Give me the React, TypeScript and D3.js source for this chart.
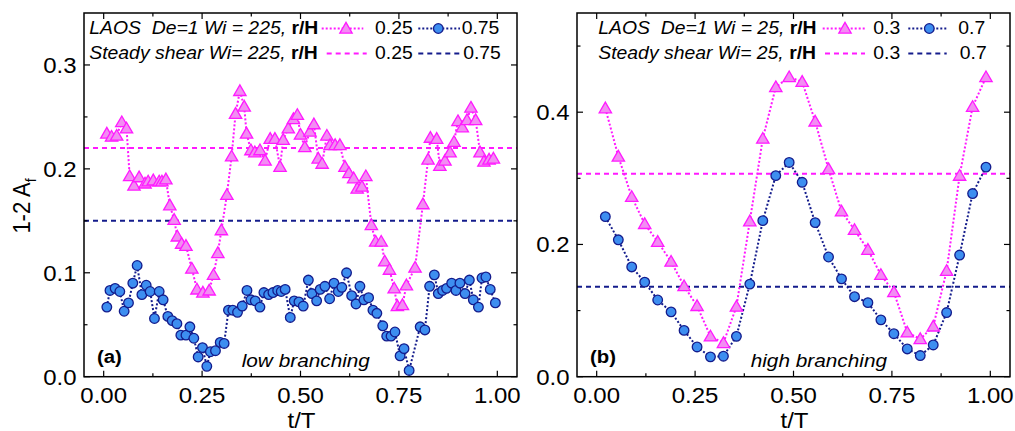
import * as d3 from "d3";

// ---- data ----
// panel (a): low branching, Wi = 225
const tA025 = [0.008,0.020,0.033,0.046,0.058,0.066,0.077,0.090,0.105,0.113,0.126,0.141,0.148,0.158,0.168,0.179,0.187,0.198,0.209,0.224,0.237,0.252,0.268,0.279,0.290,0.299,0.313,0.325,0.335,0.346,0.357,0.363,0.374,0.384,0.397,0.410,0.423,0.435,0.448,0.456,0.469,0.482,0.492,0.500,0.511,0.524,0.534,0.545,0.555,0.567,0.575,0.588,0.600,0.613,0.623,0.635,0.644,0.656,0.666,0.680,0.691,0.705,0.714,0.726,0.738,0.746,0.759,0.769,0.791,0.811,0.824,0.830,0.846,0.854,0.867,0.880,0.890,0.900,0.911,0.923,0.933,0.945,0.956,0.966,0.979,0.990];
const a025 = [0.234,0.231,0.232,0.245,0.239,0.193,0.184,0.192,0.186,0.188,0.189,0.188,0.188,0.190,0.165,0.151,0.135,0.128,0.126,0.104,0.084,0.081,0.083,0.098,0.119,0.141,0.175,0.212,0.253,0.275,0.260,0.234,0.218,0.216,0.218,0.208,0.229,0.229,0.202,0.228,0.239,0.248,0.252,0.233,0.221,0.236,0.243,0.210,0.205,0.232,0.223,0.223,0.223,0.202,0.196,0.191,0.181,0.183,0.193,0.146,0.130,0.130,0.111,0.103,0.085,0.068,0.069,0.088,0.105,0.166,0.209,0.230,0.229,0.203,0.208,0.216,0.226,0.246,0.240,0.247,0.259,0.247,0.216,0.207,0.209,0.210];
const tA075 = [0.008,0.016,0.029,0.041,0.052,0.063,0.074,0.085,0.097,0.108,0.118,0.129,0.141,0.151,0.163,0.174,0.186,0.196,0.209,0.219,0.229,0.240,0.251,0.262,0.271,0.284,0.296,0.306,0.317,0.328,0.340,0.352,0.364,0.374,0.385,0.397,0.407,0.419,0.430,0.442,0.451,0.461,0.474,0.484,0.496,0.507,0.520,0.529,0.541,0.550,0.562,0.574,0.585,0.596,0.605,0.617,0.630,0.641,0.651,0.661,0.673,0.684,0.694,0.709,0.719,0.730,0.740,0.753,0.763,0.776,0.804,0.816,0.828,0.840,0.850,0.861,0.871,0.884,0.895,0.905,0.918,0.929,0.939,0.952,0.961,0.971,0.982,0.995];
const a075 = [0.067,0.083,0.085,0.082,0.063,0.071,0.090,0.107,0.079,0.088,0.082,0.056,0.082,0.074,0.058,0.054,0.051,0.040,0.040,0.048,0.037,0.019,0.028,0.010,0.024,0.025,0.033,0.032,0.064,0.064,0.062,0.068,0.083,0.074,0.073,0.067,0.081,0.079,0.081,0.083,0.082,0.084,0.057,0.073,0.072,0.068,0.093,0.080,0.073,0.084,0.087,0.075,0.090,0.082,0.086,0.100,0.078,0.070,0.087,0.074,0.076,0.064,0.061,0.049,0.039,0.039,0.043,0.020,0.027,0.006,0.048,0.045,0.087,0.098,0.080,0.083,0.085,0.090,0.083,0.090,0.080,0.093,0.074,0.067,0.095,0.096,0.084,0.071];
const steadyA = [0.22, 0.15];

// panel (b): high branching, Wi = 25
const tB = [0.022,0.055,0.089,0.122,0.155,0.189,0.222,0.255,0.289,0.322,0.355,0.389,0.422,0.455,0.489,0.522,0.555,0.589,0.622,0.655,0.689,0.722,0.755,0.789,0.822,0.855,0.889,0.922,0.955,0.989];
const b03 = [0.406,0.333,0.272,0.231,0.204,0.174,0.137,0.107,0.061,0.051,0.106,0.235,0.360,0.438,0.453,0.446,0.386,0.314,0.250,0.222,0.192,0.154,0.128,0.067,0.057,0.076,0.160,0.304,0.408,0.453];
const b07 = [0.242,0.207,0.166,0.143,0.116,0.098,0.070,0.045,0.030,0.031,0.061,0.140,0.236,0.304,0.324,0.294,0.233,0.181,0.148,0.121,0.112,0.086,0.065,0.042,0.032,0.048,0.097,0.184,0.277,0.317];
const steadyB = [0.307, 0.136];

const xMajor = [0, 0.25, 0.5, 0.75, 1];
const xMinor = [0.125, 0.375, 0.625, 0.875];
const yMajorA = [0, 0.1, 0.2, 0.3];
const yMinorA = [0.05, 0.15, 0.25];
const yMajorB = [0, 0.2, 0.4];
const yMinorB = [0.1, 0.3, 0.5];

// ---- styling ----
const W = 1015;
const H = 431;
const TOP = 13;
const BOTTOM = 376.7;
const SX = 1.1; // glyphs in the source are a bit wide
const FONT = "Arial, 'Liberation Sans', sans-serif";
const MAG = "#ff1aff";
const TRI_FILL = "#f28df2";
const NAVY = "#141c8c";
const CIR_FILL = "#3d8ef0";

type TProps = {
    x: number;
    y: number;
    size: number;
    anchor?: "start" | "middle" | "end";
    italic?: boolean;
    bold?: boolean;
    children: React.ReactNode;
};

const T = ({ x, y, size, anchor = "start", italic, bold, children }: TProps) => (
    <text
        transform={`translate(${x},${y}) scale(${SX},1)`}
        fontSize={size}
        fontFamily={FONT}
        textAnchor={anchor}
        fontStyle={italic ? "italic" : "normal"}
        fontWeight={bold ? "bold" : "normal"}
        style={{ whiteSpace: "pre" }}
    >
        {children}
    </text>
);

const triPath = d3.symbol().type(d3.symbolTriangle).size(66)() as string;

type LegendProps = {
    x0: number;
    laos: string;
    steady: string;
    s1: [number, number, number];
    s2: [number, number, number];
    l1: number;
    l2: number;
    labels: [string, string];
    d1: [number, number];
    d2: [number, number];
};

const LEG = 17.6;

const Legend = ({ x0, laos, steady, s1, s2, l1, l2, labels, d1, d2 }: LegendProps) => {
    const y1 = 34.3;
    const y2 = 59.3;
    const m1 = 28.5;
    const m2 = 53.5;
    return (
        <g>
            <T x={x0} y={y1} size={LEG} italic>
                {laos}
                <tspan fontStyle="normal" fontWeight="bold">r/H</tspan>
            </T>
            <line x1={s1[0]} x2={s1[1]} y1={m1} y2={m1} stroke={MAG} strokeWidth={2} strokeDasharray="2,2" />
            <path d={triPath} transform={`translate(${s1[2]},${m1 + 1})`} fill={TRI_FILL} stroke={MAG} strokeWidth={1.3} />
            <T x={l1} y={y1} size={LEG}>{labels[0]}</T>
            <line x1={s2[0]} x2={s2[1]} y1={m1} y2={m1} stroke={NAVY} strokeWidth={2} strokeDasharray="2,2" />
            <circle cx={s2[2]} cy={m1} r={4.8} fill={CIR_FILL} stroke={NAVY} strokeWidth={1.3} />
            <T x={l2} y={y1} size={LEG}>{labels[1]}</T>

            <T x={x0} y={y2} size={LEG} italic>
                {steady}
                <tspan fontStyle="normal" fontWeight="bold">r/H</tspan>
            </T>
            <line x1={d1[0]} x2={d1[1]} y1={m2} y2={m2} stroke={MAG} strokeWidth={2} strokeDasharray="5,4" />
            <T x={l1} y={y2} size={LEG}>{labels[0]}</T>
            <line x1={d2[0]} x2={d2[1]} y1={m2} y2={m2} stroke={NAVY} strokeWidth={2} strokeDasharray="5,4" />
            <T x={l2 + 1.5} y={y2} size={LEG}>{labels[1]}</T>
        </g>
    );
};

type PanelProps = {
    left: number;
    right: number;
    yMax: number;
    yMajor: number[];
    yMinor: number[];
    tTri: number[];
    vTri: number[];
    tCir: number[];
    vCir: number[];
    steady: number[];
    tag: string;
    note: string;
    noteX: number;
    legend: LegendProps;
};

const Panel = (p: PanelProps) => {
    const x = d3.scaleLinear().domain([-0.05, 1.05]).range([p.left, p.right]);
    const y = d3.scaleLinear().domain([0, p.yMax]).range([BOTTOM, TOP]);
    const line = d3
        .line<[number, number]>()
        .x((d) => x(d[0]))
        .y((d) => y(d[1]));
    const triPts = p.tTri.map((t, i) => [t, p.vTri[i]] as [number, number]);
    const cirPts = p.tCir.map((t, i) => [t, p.vCir[i]] as [number, number]);
    const fx = d3.format(".2f");
    const fy = d3.format(".1f");
    const MAJ = 6;
    const MIN = 3.5;
    const TICKF = 21.8;

    return (
        <g>
            {/* steady shear reference lines */}
            <line x1={p.left} x2={p.right} y1={y(p.steady[0])} y2={y(p.steady[0])} stroke={MAG} strokeWidth={2} strokeDasharray="5,4" />
            <line x1={p.left} x2={p.right} y1={y(p.steady[1])} y2={y(p.steady[1])} stroke={NAVY} strokeWidth={2} strokeDasharray="5,4" />

            <path d={line(triPts) ?? ""} fill="none" stroke={MAG} strokeWidth={2} strokeDasharray="2,2" />
            <path d={line(cirPts) ?? ""} fill="none" stroke={NAVY} strokeWidth={2} strokeDasharray="2,2" />

            {triPts.map((d, i) => (
                <path key={`t${i}`} d={triPath} transform={`translate(${x(d[0])},${y(d[1]) + 1})`} fill={TRI_FILL} stroke={MAG} strokeWidth={1.3} />
            ))}
            {cirPts.map((d, i) => (
                <circle key={`c${i}`} cx={x(d[0])} cy={y(d[1])} r={4.8} fill={CIR_FILL} stroke={NAVY} strokeWidth={1.3} />
            ))}

            {/* frame and inward ticks */}
            <rect x={p.left} y={TOP} width={p.right - p.left} height={BOTTOM - TOP} fill="none" stroke="#000" strokeWidth={1.5} />
            {xMajor.map((t) => (
                <g key={`xM${t}`}>
                    <line x1={x(t)} x2={x(t)} y1={BOTTOM} y2={BOTTOM - MAJ} stroke="#000" strokeWidth={1.2} />
                    <line x1={x(t)} x2={x(t)} y1={TOP} y2={TOP + MAJ} stroke="#000" strokeWidth={1.2} />
                    <T x={x(t)} y={402.5} size={TICKF} anchor="middle">{fx(t)}</T>
                </g>
            ))}
            {xMinor.map((t) => (
                <g key={`xm${t}`}>
                    <line x1={x(t)} x2={x(t)} y1={BOTTOM} y2={BOTTOM - MIN} stroke="#000" strokeWidth={1.2} />
                    <line x1={x(t)} x2={x(t)} y1={TOP} y2={TOP + MIN} stroke="#000" strokeWidth={1.2} />
                </g>
            ))}
            {p.yMajor.map((v) => (
                <g key={`yM${v}`}>
                    <line x1={p.left} x2={p.left + MAJ} y1={y(v)} y2={y(v)} stroke="#000" strokeWidth={1.2} />
                    <line x1={p.right} x2={p.right - MAJ} y1={y(v)} y2={y(v)} stroke="#000" strokeWidth={1.2} />
                    <T x={p.left - 7.5} y={y(v) + 7.8} size={TICKF} anchor="end">{fy(v)}</T>
                </g>
            ))}
            {p.yMinor.map((v) => (
                <g key={`ym${v}`}>
                    <line x1={p.left} x2={p.left + MIN} y1={y(v)} y2={y(v)} stroke="#000" strokeWidth={1.2} />
                    <line x1={p.right} x2={p.right - MIN} y1={y(v)} y2={y(v)} stroke="#000" strokeWidth={1.2} />
                </g>
            ))}

            <T x={(p.left + p.right) / 2 + 1} y={427.5} size={TICKF} anchor="middle">t/T</T>
            <T x={p.left + 13} y={362.5} size={18.5} bold>{p.tag}</T>
            <T x={p.noteX} y={367} size={18.9} italic>{p.note}</T>

            <Legend {...p.legend} />
        </g>
    );
};

export default function App() {
    return (
        <svg width={W} height={H} style={{ position: "absolute", left: 0, top: 0, background: "#fff" }}>
            <rect width={W} height={H} fill="#fff" />
            <Panel
                left={84}
                right={517}
                yMax={0.35}
                yMajor={yMajorA}
                yMinor={yMinorA}
                tTri={tA025}
                vTri={a025}
                tCir={tA075}
                vCir={a075}
                steady={steadyA}
                tag="(a)"
                note="low branching"
                noteX={241.7}
                legend={{
                    x0: 89.3,
                    laos: "LAOS  De=1 Wi = 225, ",
                    steady: "Steady shear Wi= 225, ",
                    s1: [321.7, 363.3, 346],
                    s2: [418.3, 460, 438.3],
                    l1: 375,
                    l2: 461.7,
                    labels: ["0.25", "0.75"],
                    d1: [326.7, 366.7],
                    d2: [418.3, 460],
                }}
            />
            <Panel
                left={577}
                right={1010}
                yMax={0.55}
                yMajor={yMajorB}
                yMinor={yMinorB}
                tTri={tB}
                vTri={b03}
                tCir={tB}
                vCir={b07}
                steady={steadyB}
                tag="(b)"
                note="high branching"
                noteX={750.7}
                legend={{
                    x0: 598.3,
                    laos: "LAOS  De=1 Wi = 25, ",
                    steady: "Steady shear Wi= 25, ",
                    s1: [822.7, 866.7, 845],
                    s2: [908.3, 948.3, 929.3],
                    l1: 873.3,
                    l2: 958.3,
                    labels: ["0.3", "0.7"],
                    d1: [825, 865],
                    d2: [908.3, 946.7],
                }}
            />
            {/* y axis title */}
            <text
                transform={`translate(30,206) scale(${SX},1) rotate(-90)`}
                fontSize={22}
                fontFamily={FONT}
                textAnchor="middle"
            >
                1-2 A<tspan fontSize={14} dy={5}>f</tspan>
            </text>
        </svg>
    );
}
